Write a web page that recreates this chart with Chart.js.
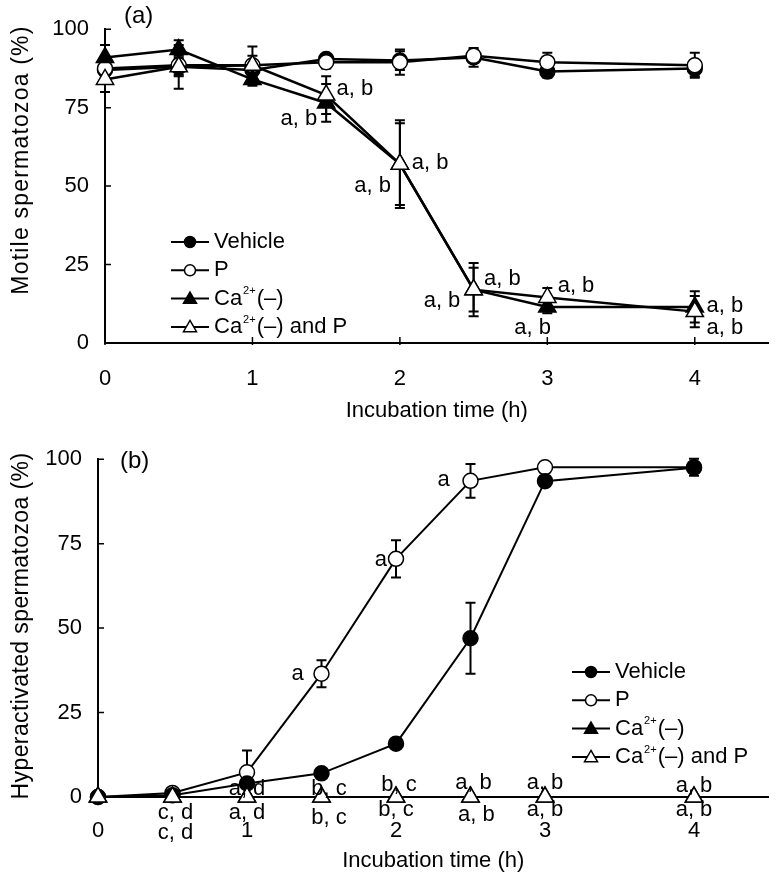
<!DOCTYPE html>
<html>
<head>
<meta charset="utf-8">
<script src="https://cdn.jsdelivr.net/npm/chart.js@4.4.0/dist/chart.umd.min.js"></script>
<style>
  body { margin: 0; background: #fff; }
  .panel { position: absolute; left: 0; width: 780px; }
  #panelA { top: 0; height: 430px; }
  #panelB { top: 430px; height: 451px; }
</style>
</head>
<body>
<div class="panel" id="panelA"><canvas id="motileChart"></canvas></div>
<div class="panel" id="panelB"><canvas id="hyperChart"></canvas></div>
<script>
const timeHours = [0, 0.5, 1, 1.5, 2, 2.5, 3, 4];
const xTickValues = [0, 1, 2, 3, 4];
const yTickValues = [0, 25, 50, 75, 100];
const seriesNames = ["Vehicle", "P", "Ca²⁺(–)", "Ca²⁺(–) and P"];

// (a) motile spermatozoa, mean and error
const motileVehicle = [87, 88, 87, 90.5, 90, 91, 86.5, 87.5];
const motileVehicleErr = [3, 3, 2, 1.5, 3, 3, 2, 2.5];
const motileP = [87.5, 88.5, 88.5, 89.5, 89.5, 91.5, 89.5, 88.5];
const motilePErr = [3, 3, 3, 2, 4, 2, 3, 4];
const motileCa = [91, 93.5, 84, 76.5, 57, 17, 11.5, 11.5];
const motileCaErr = [4, 3, 2, 6, 13, 8.5, 2, 5];
const motileCaP = [84, 88, 88.5, 79, 57, 17, 14.5, 10];
const motileCaPErr = [4, 7, 6, 6, 14, 7, 3, 5];

// (b) hyperactivated spermatozoa
const hyperVehicle = [0, 0.5, 4, 7, 15.8, 47, 93.5, 97.5];
const hyperVehicleErr = [0, 0, 0, 0, 1, 10.5, 1, 1];
const hyperP = [0, 1.2, 7.3, 36.5, 70.5, 93.6, 97.6, 97.6];
const hyperPErr = [0, 0.5, 6.5, 4, 5.5, 5, 0.5, 2.5];
const hyperCa = [0, 0, 0, 0, 0, 0, 0, 0];
const hyperCaErr = [0, 0, 0, 0, 0, 0, 0, 0];
const hyperCaP = [0, 0, 0, 0, 0, 0, 0, 0];
const hyperCaPErr = [0, 0, 0, 0, 0, 0, 0, 0];

// significance letters: [time, value, text, align]
const motileNotes = [
  [1.57, 81, "a, b", "left"], [1.44, 71.5, "a, b", "right"],
  [1.94, 50, "a, b", "right"], [2.08, 57.4, "a, b", "left"],
  [2.57, 20.4, "a, b", "left"], [2.41, 13.5, "a, b", "right"],
  [3.07, 18.3, "a, b", "left"], [2.9, 4.8, "a, b", "center"],
  [4.08, 11.7, "a, b", "left"], [4.08, 4.8, "a, b", "left"]
];
const hyperNotes = [
  [1.38, 36.5, "a", "right"], [1.94, 70.2, "a", "right"], [2.36, 94, "a", "right"],
  [0.52, -4.7, "c, d", "center"], [0.52, -10.5, "c, d", "center"],
  [1.0, 2.3, "a, d", "center"], [1.0, -4.7, "a, d", "center"],
  [1.55, 2.3, "b, c", "center"], [1.55, -6.1, "b, c", "center"],
  [2.02, 3.5, "b, c", "center"], [2.0, -3.8, "b, c", "center"],
  [2.52, 4.1, "a, b", "center"], [2.54, -5.3, "a, b", "center"],
  [3.0, 4.1, "a, b", "center"], [3.0, -3.8, "a, b", "center"],
  [4.0, 3.2, "a, b", "center"], [4.0, -3.8, "a, b", "center"]
];

const FONT = "Liberation Sans, Arial, Helvetica, sans-serif";
const markerStyles = [
  { shape: "circle", fill: "#000" },
  { shape: "circle", fill: "#fff" },
  { shape: "triangle", fill: "#000" },
  { shape: "triangle", fill: "#fff" }
];

function drawMarker(ctx, shape, fill, x, y, r) {
  ctx.beginPath();
  if (shape === "circle") {
    ctx.arc(x, y, r, 0, Math.PI * 2);
  } else {
    for (let k = 0; k < 3; k++) {
      const a = k * 2 * Math.PI / 3;
      const px = x + Math.sin(a) * r, py = y - Math.cos(a) * r;
      if (k === 0) ctx.moveTo(px, py); else ctx.lineTo(px, py);
    }
    ctx.closePath();
  }
  ctx.fillStyle = fill;
  ctx.fill();
  ctx.stroke();
}

// text with the "²⁺" drawn as a small raised "2+"
function drawLabel(ctx, text, x, y, size) {
  const parts = text.split("²⁺");
  ctx.textAlign = "left";
  ctx.textBaseline = "middle";
  let cx = x;
  parts.forEach((part, i) => {
    if (i > 0) {
      ctx.font = Math.round(size * 0.5) + "px " + FONT;
      ctx.fillText("2+", cx + 1, y - size * 0.33);
      cx += ctx.measureText("2+").width + 2;
    }
    ctx.font = size + "px " + FONT;
    ctx.fillText(part, cx, y);
    cx += ctx.measureText(part).width;
  });
}

function makeExtras(setup) {
  return {
    id: "figureExtras",
    beforeDatasetsDraw(chart) {
      const { ctx } = chart;
      const xs = chart.scales.x, ys = chart.scales.y;
      ctx.save();
      ctx.strokeStyle = "#000";
      ctx.lineWidth = 1.5;
      ctx.beginPath();
      if (setup.xTickMarks) {
        xs.ticks.forEach(t => {
          const px = xs.getPixelForValue(t.value);
          ctx.moveTo(px, ys.bottom + 2);
          ctx.lineTo(px, ys.bottom - 6);
        });
      }
      ys.ticks.forEach(t => {
        const py = ys.getPixelForValue(t.value);
        ctx.moveTo(xs.left, py);
        ctx.lineTo(xs.left + 6, py);
      });
      ctx.stroke();

      // error bars
      ctx.lineWidth = 2;
      chart.data.datasets.forEach((ds, i) => {
        const meta = chart.getDatasetMeta(i);
        const errs = setup.errors[i];
        ds.data.forEach((pt, j) => {
          const e = errs[j];
          if (!e) return;
          const px = meta.data[j].x;
          const top = ys.getPixelForValue(pt.y + e);
          const bot = ys.getPixelForValue(pt.y - e);
          ctx.beginPath();
          ctx.moveTo(px, top); ctx.lineTo(px, bot);
          ctx.moveTo(px - 5, top); ctx.lineTo(px + 5, top);
          ctx.moveTo(px - 5, bot); ctx.lineTo(px + 5, bot);
          ctx.stroke();
        });
      });
      ctx.restore();
    },
    afterDraw(chart) {
      const { ctx } = chart;
      const xs = chart.scales.x, ys = chart.scales.y;
      ctx.save();
      ctx.fillStyle = "#000";
      ctx.font = "22px " + FONT;
      ctx.textBaseline = "middle";
      setup.notes.forEach(([t, v, text, align]) => {
        ctx.textAlign = align;
        ctx.fillText(text, xs.getPixelForValue(t), ys.getPixelForValue(v));
      });

      // panel letter
      ctx.textAlign = "left";
      ctx.font = "24px " + FONT;
      ctx.fillText(setup.panel, setup.panelPos[0], setup.panelPos[1]);

      // y-axis title, a little spaced out as in the figure
      ctx.save();
      ctx.translate(setup.yTitlePos[0], setup.yTitlePos[1]);
      ctx.rotate(-Math.PI / 2);
      ctx.font = "23px " + FONT;
      ctx.letterSpacing = setup.yTitleSpacing + "px";
      ctx.textAlign = "center";
      ctx.fillText(setup.yTitle, 0, 0);
      ctx.restore();

      // legend
      const [lx, ly, gap] = setup.legendPos;
      seriesNames.forEach((name, i) => {
        const ry = ly + i * gap;
        const st = markerStyles[i];
        ctx.strokeStyle = "#000";
        ctx.lineWidth = 2;
        ctx.beginPath();
        ctx.moveTo(lx, ry); ctx.lineTo(lx + 38, ry);
        ctx.stroke();
        ctx.lineWidth = 1.5;
        drawMarker(ctx, st.shape, st.fill, lx + 19, ry + (st.shape === "triangle" ? 1 : 0), st.shape === "circle" ? 5.5 : 7.5);
        ctx.fillStyle = "#000";
        drawLabel(ctx, name, lx + 43, ry, 22);
      });
      ctx.restore();
    }
  };
}

function buildPanel(canvasId, setup) {
  const datasets = setup.series.map((values, i) => ({
    label: seriesNames[i],
    data: values.map((v, j) => ({ x: timeHours[j], y: v })),
    borderColor: "#000",
    borderWidth: setup.lineWidth,
    pointStyle: markerStyles[i].shape,
    pointBackgroundColor: markerStyles[i].fill,
    pointBorderColor: "#000",
    pointBorderWidth: 1.5,
    pointRadius: markerStyles[i].shape === "circle" ? 7.5 : 10,
    order: setup.order[i],
    clip: false,
    tension: 0
  }));

  const tickFont = { family: FONT, size: 22 };
  return new Chart(document.getElementById(canvasId), {
    type: "line",
    data: { datasets },
    options: {
      responsive: true,
      maintainAspectRatio: false,
      animation: false,
      layout: { padding: setup.padding },
      plugins: { legend: { display: false }, tooltip: { enabled: false } },
      scales: {
        x: {
          type: "linear",
          min: 0,
          max: 4.5,
          afterBuildTicks: s => { s.ticks = xTickValues.map(v => ({ value: v })); },
          afterFit: s => { s.height = setup.xHeight; },
          grid: { display: false, drawTicks: false },
          border: { display: true, color: "#000", width: 2 },
          ticks: { color: "#000", font: tickFont, padding: setup.xTickPad, maxRotation: 0 },
          title: {
            display: true, text: "Incubation time (h)", color: "#000",
            font: tickFont, padding: { top: 0, bottom: setup.xTitlePad }
          }
        },
        y: {
          min: 0,
          max: 100,
          afterBuildTicks: s => { s.ticks = yTickValues.map(v => ({ value: v })); },
          afterFit: s => { s.width = setup.yWidth; },
          grid: { display: false, drawTicks: false },
          border: { display: true, color: "#000", width: 2 },
          ticks: { color: "#000", font: tickFont, padding: 16 }
        }
      }
    },
    plugins: [makeExtras(setup)]
  });
}

buildPanel("motileChart", {
  series: [motileVehicle, motileP, motileCa, motileCaP],
  errors: [motileVehicleErr, motilePErr, motileCaErr, motileCaPErr],
  notes: motileNotes,
  order: [3, 2, 1, 0],
  lineWidth: 2.5,
  yTitle: "Motile spermatozoa (%)",
  yTitlePos: [22, 160],
  yTitleSpacing: 1.2,
  panel: "(a)",
  panelPos: [124, 16],
  legendPos: [171, 242, 28.3],
  padding: { left: 0, top: 11, right: 6, bottom: 0 },
  yWidth: 105,
  xHeight: 87,
  xTickPad: 23,
  xTitlePad: 6,
  xTickMarks: true
});

buildPanel("hyperChart", {
  series: [hyperVehicle, hyperP, hyperCa, hyperCaP],
  errors: [hyperVehicleErr, hyperPErr, hyperCaErr, hyperCaPErr],
  notes: hyperNotes,
  order: [2, 3, 1, 0],
  lineWidth: 2,
  yTitle: "Hyperactivated spermatozoa (%)",
  yTitlePos: [22, 196],
  yTitleSpacing: 0.4,
  panel: "(b)",
  panelPos: [120, 31],
  legendPos: [572, 242, 28.3],
  padding: { left: 0, top: 25, right: 3, bottom: 0 },
  yWidth: 98,
  xHeight: 84,
  xTickPad: 21,
  xTitlePad: 7,
  xTickMarks: false
});
</script>
</body>
</html>
